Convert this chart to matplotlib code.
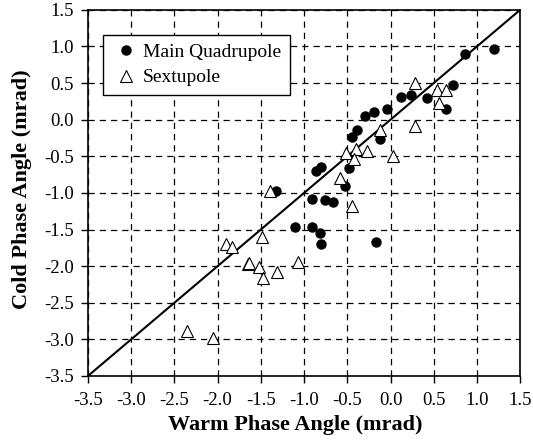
import matplotlib.pyplot as plt

plt.rcParams['font.family'] = ['Liberation Serif', 'DejaVu Serif']

# Main Quadrupole (warm, cold) in mrad
quad_warm = [1.20, 0.86, 0.72, 0.64, 0.42, 0.24, 0.12, -0.04, -0.19, -0.29,
             -0.39, -0.44, -0.12, -0.48, -0.53, -0.86, -0.80, -1.32, -0.91, -0.76,
             -0.66, -1.10, -0.91, -0.82, -0.81, -0.17]
quad_cold = [0.96, 0.90, 0.47, 0.15, 0.29, 0.34, 0.31, 0.14, 0.11, 0.05,
             -0.14, -0.23, -0.27, -0.66, -0.91, -0.70, -0.64, -0.97, -1.08, -1.10,
             -1.12, -1.46, -1.46, -1.55, -1.70, -1.67]

# Sextupole (warm, cold)
sext_warm = [0.28, 0.54, 0.64, 0.56, 0.28, -0.12, -0.40, -0.27, -0.52, -0.42,
             0.03, -0.58, -0.45, -1.39, -1.49, -1.90, -1.83, -1.65, -1.64, -1.52,
             -1.47, -1.31, -1.07, -2.36, -2.05]
sext_cold = [0.50, 0.40, 0.40, 0.23, -0.08, -0.14, -0.40, -0.43, -0.46, -0.54,
             -0.50, -0.80, -1.18, -0.97, -1.60, -1.70, -1.74, -1.97, -1.96, -2.01,
             -2.16, -2.08, -1.95, -2.89, -2.98]

ticks = [-3.5, -3.0, -2.5, -2.0, -1.5, -1.0, -0.5, 0.0, 0.5, 1.0, 1.5]

fig = plt.figure(figsize=(5.33, 4.46), dpi=100)
ax = fig.add_axes([0.165, 0.157, 0.811, 0.821])

ax.plot([-3.5, 1.5], [-3.5, 1.5], color='black', lw=1.5, zorder=2)
ax.plot(quad_warm, quad_cold, 'o', color='black', markersize=6.5,
        label='Main Quadrupole', zorder=3)
ax.plot(sext_warm, sext_cold, '^', markerfacecolor='white', markeredgecolor='black',
        markeredgewidth=0.8, markersize=8.5, label='Sextupole', zorder=4)

ax.set_xlim(-3.5, 1.5)
ax.set_ylim(-3.5, 1.5)
ax.set_xticks(ticks)
ax.set_yticks(ticks)
ax.set_xticklabels(['%.1f' % t for t in ticks])
ax.set_yticklabels(['%.1f' % t for t in ticks])
ax.tick_params(direction='out', length=5, width=1, labelsize=13.5, colors='black')
ax.tick_params(axis='x', pad=6.5)
ax.tick_params(axis='y', pad=5)
ax.grid(True, color='black', linestyle=(0, (5, 4)), linewidth=0.9)
for s in ax.spines.values():
    s.set_color('black')
    s.set_linewidth(1.2)

ax.set_xlabel('Warm Phase Angle (mrad)', fontsize=16, fontweight='bold')
ax.set_ylabel('Cold Phase Angle (mrad)', fontsize=16, fontweight='bold')
ax.xaxis.set_label_coords(0.48, -0.106)
ax.yaxis.set_label_coords(-0.13, 0.51)

leg = ax.legend(loc='upper left', bbox_to_anchor=(0.035, 0.932), fontsize=14,
                frameon=True, fancybox=False, edgecolor='black', framealpha=1,
                borderaxespad=0, handletextpad=0.1, handlelength=1.5,
                borderpad=0.45, labelspacing=0.4)
leg.get_frame().set_linewidth(1.0)

fig.savefig('out.png', dpi=100)
